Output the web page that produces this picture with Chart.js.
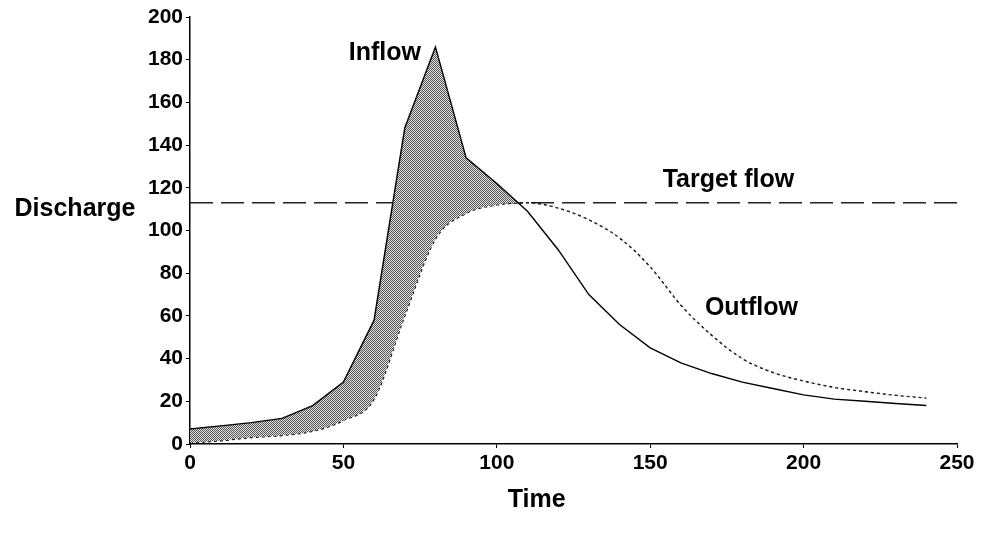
<!DOCTYPE html>
<html>
<head>
<meta charset="utf-8">
<script src="https://cdn.jsdelivr.net/npm/chart.js@4.4.1/dist/chart.umd.min.js"></script>
<style>
  html, body { margin: 0; padding: 0; background: #fff; }
  canvas { display: block; }
</style>
</head>
<body>
<canvas id="floodChart" width="987" height="539"></canvas>
<script>
// valores
const timeSteps = [0, 10, 20, 30, 40, 50, 60, 70, 80, 90, 100, 110, 120, 130, 140, 150, 160, 170, 180, 190, 200, 210, 220, 230, 240];
const inflow    = [7, 8.5, 10, 12, 18, 29, 58, 148, 186, 134, 122, 109, 91, 70, 56, 45, 38, 33, 29, 26, 23, 21, 20, 19, 18];
const outflow   = [0.5, 1.5, 3, 4, 6, 11, 21, 60, 96, 108, 112, 113, 110.5, 105, 96.5, 83, 65, 51, 40, 33.5, 29.5, 26.5, 24.5, 22.8, 21.5];
const targetFlow = 113;
const targetSpan = [0, 250];
const xTicks = [0, 50, 100, 150, 200, 250];
const yTicks = [0, 20, 40, 60, 80, 100, 120, 140, 160, 180, 200];

// rótulos do gráfico (posição em valores dos eixos)
const labels = [
  { text: 'Inflow', x: 63.5, y: 180 },
  { text: 'Target flow', x: 175.5, y: 120.5 },
  { text: 'Outflow', x: 183, y: 60.5 }
];

const FONT = '"Liberation Sans", Arial, sans-serif';

// padrão pontilhado para a área entre as curvas
function makeHatch() {
  const c = document.createElement('canvas');
  c.width = 2; c.height = 2;
  const g = c.getContext('2d');
  g.fillStyle = '#e2e2e2';
  g.fillRect(0, 0, 2, 2);
  g.fillStyle = '#555555';
  g.fillRect(0, 0, 1, 1);
  g.fillRect(1, 1, 1, 1);
  return g.createPattern(c, 'repeat');
}

const toPoints = (xs, ys) => xs.map((x, i) => ({ x: x, y: ys[i] }));

const textPlugin = {
  id: 'textLabels',
  afterDraw(chart) {
    const ctx = chart.ctx;
    const xs = chart.scales.x, ys = chart.scales.y;
    ctx.save();
    ctx.fillStyle = '#000';
    ctx.font = 'bold 25px ' + FONT;
    ctx.textAlign = 'center';
    ctx.textBaseline = 'alphabetic';
    labels.forEach(l => {
      ctx.fillText(l.text, xs.getPixelForValue(l.x), ys.getPixelForValue(l.y));
    });
    // títulos dos eixos
    ctx.fillText('Discharge', chart.chartArea.left - 115, ys.getPixelForValue(107));
    ctx.fillText('Time', xs.getPixelForValue(113), chart.chartArea.bottom + 63);
    ctx.restore();
  }
};

const ctx = document.getElementById('floodChart').getContext('2d');

new Chart(ctx, {
  type: 'line',
  data: {
    datasets: [
      {
        label: 'Inflow',
        data: toPoints(timeSteps, inflow),
        borderColor: '#000',
        borderWidth: 1.4,
        pointRadius: 0,
        tension: 0,
        fill: { target: 1, above: makeHatch(), below: 'rgba(0,0,0,0)' }
      },
      {
        label: 'Outflow',
        data: toPoints(timeSteps, outflow),
        borderColor: '#000',
        borderWidth: 1.4,
        borderDash: [3, 3],
        pointRadius: 0,
        cubicInterpolationMode: 'monotone',
        fill: false
      },
      {
        label: 'Target flow',
        data: targetSpan.map(x => ({ x: x, y: targetFlow })),
        borderColor: '#222',
        borderWidth: 1.3,
        borderDash: [23, 8],
        pointRadius: 0,
        fill: false
      }
    ]
  },
  options: {
    responsive: false,
    animation: false,
    events: [],
    layout: { padding: { left: 0, right: 30, top: 17, bottom: 0 } },
    plugins: {
      legend: { display: false },
      tooltip: { enabled: false }
    },
    scales: {
      x: {
        type: 'linear',
        min: 0,
        max: 250,
        afterFit: s => { s.height = 95; },
        afterBuildTicks: s => { s.ticks = xTicks.map(v => ({ value: v })); },
        border: { display: true, color: '#000', width: 1.5 },
        grid: { drawOnChartArea: false, drawTicks: true, tickLength: 4, color: '#000' },
        ticks: { color: '#000', padding: 3, maxRotation: 0, font: { family: FONT, size: 21, weight: 'bold' } }
      },
      y: {
        min: 0,
        max: 200,
        afterFit: s => { s.width = 190; },
        afterBuildTicks: s => { s.ticks = yTicks.map(v => ({ value: v })); },
        border: { display: true, color: '#000', width: 1.5 },
        grid: { drawOnChartArea: false, drawTicks: true, tickLength: 4, color: '#000' },
        ticks: { color: '#000', padding: 3, font: { family: FONT, size: 21, weight: 'bold' } }
      }
    }
  },
  plugins: [textPlugin]
});
</script>
</body>
</html>
